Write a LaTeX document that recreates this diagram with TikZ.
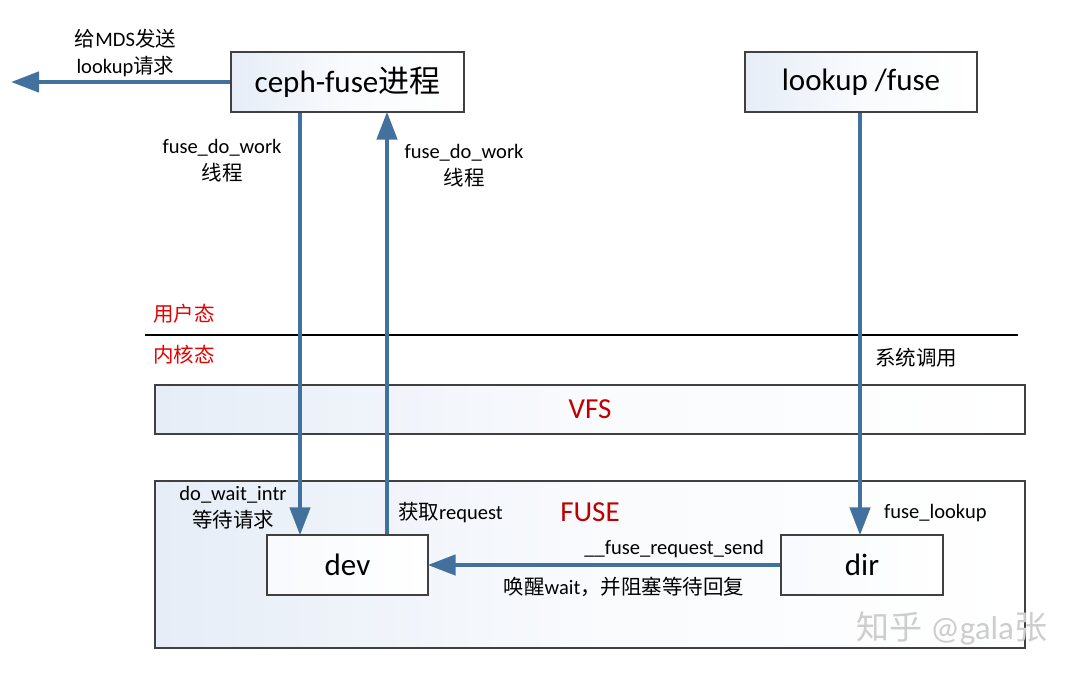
\documentclass[tikz,border=0pt]{standalone}
\usepackage{fontspec}
\setmainfont{Carlito}
\newfontfamily\cjk{Noto Sans CJK SC}
\usetikzlibrary{arrows.meta}
\definecolor{arrowblue}{RGB}{65,113,156}
\definecolor{boxline}{RGB}{64,64,64}
\definecolor{bgblue}{RGB}{230,237,247}
\definecolor{labred}{RGB}{230,0,0}
\definecolor{darkred}{RGB}{192,0,0}
\definecolor{wmgray}{RGB}{205,205,205}
\tikzset{
  box/.style={draw=boxline, line width=1.3pt, left color=bgblue, right color=white, middle color=bgblue!25!white, inner sep=0pt},
  plainbox/.style={draw=boxline, line width=1.3pt, left color=bgblue!30!white, right color=white, inner sep=0pt},
  bigtxt/.style={font=\fontsize{31}{36}\selectfont},
  lab/.style={font=\fontsize{20.5}{27}\selectfont, inner sep=0pt, align=center},
  arr/.style={draw=arrowblue, line width=4.5pt, -{Triangle[length=28pt,width=20pt]}, shorten >=-1pt},
}
\begin{document}
\begin{tikzpicture}[x=1pt,y=-1pt]
\useasboundingbox (0,0) rectangle (1080,679);
% boxes
\node[box, bigtxt, minimum width=233pt, minimum height=60pt] (ceph) at (347.5,82) {ceph-fuse{\cjk 进程}};
\node[box, bigtxt, minimum width=232pt, minimum height=60pt] (lookup) at (861,82) {lookup /fuse};
\node[box, minimum width=870pt, minimum height=49pt] (vfs) at (590,409.5) {};
\node[box, minimum width=870pt, minimum height=167pt] (fuse) at (590,564.5) {};
\node[plainbox, bigtxt, minimum width=161pt, minimum height=60pt] (dev) at (347.5,565) {dev};
\node[plainbox, bigtxt, minimum width=162pt, minimum height=60pt] (dir) at (862,565) {dir};
% box titles
\node[font=\fontsize{29}{34}\selectfont, text=darkred, inner sep=0pt] (vfslab) at (590,409) {VFS};
\node[font=\fontsize{29}{34}\selectfont, text=darkred, inner sep=0pt] (fuselab) at (590,512) {FUSE};
% separator
\coordinate (sepL) at (145,335);
\coordinate (sepR) at (1018,335);
\draw[line width=1.3pt, black] (sepL) -- (sepR);
% arrows
\coordinate (mds) at (12,82);
\draw[arr] (ceph.west) -- (mds);
\draw[arr] ([xshift=-47.5pt]ceph.south) -- ([xshift=-47.5pt]dev.north);
\draw[arr] ([xshift=39.5pt]dev.north) -- ([xshift=39.5pt]ceph.south);
\draw[arr] ([xshift=-1pt]lookup.south) -- ([xshift=-1pt]lookup.south |- dir.north);
\draw[arr] (dir.west) -- (dev.east);
% labels
\node[lab] (l1) at (125.5,53) {{\cjk 给}MDS{\cjk 发送}\\lookup{\cjk 请求}};
\node[lab] (l2) at (222,161) {fuse\_do\_work\\{\cjk 线程}};
\node[lab] (l3) at (464,166) {fuse\_do\_work\\{\cjk 线程}};
\node[lab, text=labred, anchor=west] (user) at (153,314) {\cjk 用户态};
\node[lab, text=labred, anchor=west] (kern) at (153,355) {\cjk 内核态};
\node[lab, anchor=west] (sys) at (875,358) {\cjk 系统调用};
\node[lab] (l4) at (233,508) {do\_wait\_intr\\{\cjk 等待请求}};
\node[lab, anchor=west] (l5) at (398,513) {{\cjk 获取}request};
\node[lab, anchor=west] (l6) at (884,513) {fuse\_lookup};
\node[lab, anchor=east] (l7) at (764,549) {\_\_fuse\_request\_send};
\node[lab] (l8) at (624,587) {{\cjk 唤醒}wait{\cjk ，并阻塞等待回复}};
\node[font=\fontsize{33}{36}\selectfont, text=wmgray, inner sep=0pt] (wm) at (952,628) {{\cjk 知乎} @gala{\cjk 张}};
\end{tikzpicture}
\end{document}
